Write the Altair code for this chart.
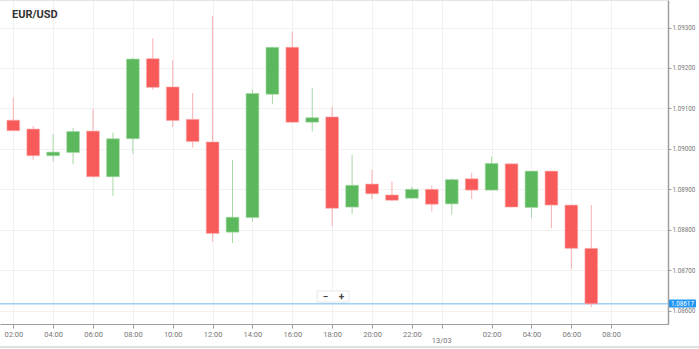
import altair as alt
import pandas as pd

# hours since 12/03 00:00
hours = list(range(2, 32))
opens = [1.09071, 1.09049, 1.08983, 1.08991, 1.09044, 1.08931, 1.09025, 1.09223, 1.09153, 1.09073,
         1.09017, 1.08794, 1.08830, 1.09135, 1.09251, 1.09066, 1.09079, 1.08856, 1.08913, 1.08886,
         1.08878, 1.08900, 1.08864, 1.08926, 1.08898, 1.08963, 1.08855, 1.08945, 1.08861, 1.08754]
highs = [1.09127, 1.09057, 1.09037, 1.09052, 1.09099, 1.09040, 1.09226, 1.09273, 1.09219, 1.09138,
         1.09329, 1.08973, 1.09147, 1.09252, 1.09290, 1.09150, 1.09104, 1.08985, 1.08948, 1.08919,
         1.08907, 1.08909, 1.08927, 1.08941, 1.08981, 1.08963, 1.08945, 1.08945, 1.08862, 1.08861]
lows = [1.09044, 1.08973, 1.08968, 1.08962, 1.08930, 1.08884, 1.08987, 1.09147, 1.09054, 1.09003,
        1.08771, 1.08767, 1.08820, 1.09110, 1.09065, 1.09043, 1.08808, 1.08839, 1.08876, 1.08872,
        1.08877, 1.08845, 1.08838, 1.08876, 1.08898, 1.08855, 1.08829, 1.08804, 1.08703, 1.08609]
closes = [1.09045, 1.08983, 1.08992, 1.09043, 1.08931, 1.09025, 1.09222, 1.09152, 1.09070, 1.09018,
          1.08791, 1.08831, 1.09137, 1.09251, 1.09066, 1.09077, 1.08853, 1.08910, 1.08889, 1.08873,
          1.08900, 1.08863, 1.08924, 1.08898, 1.08964, 1.08856, 1.08945, 1.08861, 1.08754, 1.08617]

y_ticks = [1.086, 1.087, 1.088, 1.089, 1.090, 1.091, 1.092, 1.093]
x_ticks = [2, 4, 6, 8, 10, 12, 14, 16, 18, 20, 22, 23.5, 26, 28, 30, 32]
last_price = 1.08617
last_label = "1.08617"
title_text = "EUR/USD"
day_label = "13/03"
day_pos = 23.5

df = pd.DataFrame({"h": hours, "open": opens, "high": highs, "low": lows, "close": closes})
df["dir"] = ["up" if c >= o else "down" for o, c in zip(opens, closes)]
one = pd.DataFrame({"k": [0]})

W, H = 668, 324
xs = alt.Scale(domain=[1.333, 34.85], nice=False, zero=False)
ys = alt.Scale(domain=[1.08567, 1.09368], nice=False, zero=False)

x_axis = alt.Axis(values=x_ticks, grid=True, gridColor="#f1f1f1", domainColor="#9e9e9e",
                  tickColor="#9e9e9e", tickSize=4, labelFontSize=7.5, labelColor="#777",
                  labelFont="Roboto", labelPadding=2, title=None,
                  labelExpr="datum.value == 23.5 ? '' : (datum.value % 24 < 10 ? '0' : '') + (datum.value % 24) + ':00'")
y_axis = alt.Axis(orient="right", values=y_ticks, format=".5f", grid=True, gridColor="#f1f1f1",
                  domainColor="#9e9e9e", domainWidth=1.5, tickColor="#9e9e9e", tickSize=3,
                  labelFontSize=6.3, labelColor="#777", labelFont="Roboto", labelPadding=1, title=None)

col_body = alt.Scale(domain=["up", "down"], range=["#5cb85c", "#f85a5a"])
col_wick = alt.Scale(domain=["up", "down"], range=["#a8d8a8", "#fbb0b0"])

base = alt.Chart(df)

axes = base.mark_point(opacity=0).encode(
    x=alt.X("h:Q", scale=xs, axis=x_axis),
    y=alt.Y("close:Q", scale=ys, axis=y_axis),
)

wicks = base.mark_rule(strokeWidth=1).encode(
    x=alt.X("h:Q", scale=xs),
    y=alt.Y("low:Q", scale=ys),
    y2="high:Q",
    color=alt.Color("dir:N", scale=col_wick, legend=None),
)

bodies = base.transform_calculate(
    x1="datum.h - 0.32", x2="datum.h + 0.32"
).mark_rect(strokeWidth=1, strokeOpacity=0.6).encode(
    x=alt.X("x1:Q", scale=xs),
    x2="x2:Q",
    y=alt.Y("open:Q", scale=ys),
    y2="close:Q",
    color=alt.Color("dir:N", scale=col_body, legend=None),
    stroke=alt.Stroke("dir:N", scale=col_wick, legend=None),
)

price_line = alt.Chart(one).mark_rule(color="#9fd0f5", strokeWidth=1.5).encode(
    y=alt.Y("p:Q", scale=ys), x=alt.value(0), x2=alt.value(W)
).transform_calculate(p=str(last_price))

top_line = alt.Chart(one).mark_rule(color="#e4e4e4", strokeWidth=1).encode(
    x=alt.value(0), x2=alt.value(W), y=alt.value(0.5))
bottom_line = alt.Chart(one).mark_rule(color="#e2e2e2", strokeWidth=2).encode(
    x=alt.value(0), x2=alt.value(699), y=alt.value(347))

title = alt.Chart(one).mark_text(text=title_text, align="left", baseline="middle", fontSize=11,
                                 fontWeight="bold", font="Roboto", color="#333").encode(
    x=alt.value(12), y=alt.value(14.5))

day = alt.Chart(one).transform_calculate(d=str(day_pos)).mark_text(
    text=day_label, align="center", baseline="middle", fontSize=7.5, font="Roboto", color="#777").encode(
    x=alt.X("d:Q", scale=xs), y=alt.value(341))

price_box = alt.Chart(one).mark_rect(color="#2196f3", cornerRadius=1).encode(
    x=alt.value(669), x2=alt.value(696), y=alt.value(299.5), y2=alt.value(307.5))
price_text = alt.Chart(one).mark_text(text=last_label, align="center", baseline="middle",
                                      fontSize=6.3, font="Roboto", color="white").encode(
    x=alt.value(682.5), y=alt.value(303.5))

btn_box = alt.Chart(one).mark_rect(fill="white", stroke="#e6e6e6", strokeWidth=1).encode(
    x=alt.value(317), x2=alt.value(349), y=alt.value(291), y2=alt.value(302))
btn_minus = alt.Chart(one).mark_text(text="−", align="center", baseline="middle", fontSize=10,
                                     fontWeight="bold", font="Roboto", color="#444").encode(
    x=alt.value(325.5), y=alt.value(296.5))
btn_plus = alt.Chart(one).mark_text(text="+", align="center", baseline="middle", fontSize=10,
                                    fontWeight="bold", font="Roboto", color="#444").encode(
    x=alt.value(341.5), y=alt.value(296.5))

chart = alt.layer(
    axes, top_line, price_line, wicks, bodies, title, day, price_box, price_text,
    btn_box, btn_minus, btn_plus, bottom_line
).resolve_scale(color="independent", stroke="independent").properties(
    width=W, height=H,
    autosize=alt.AutoSizeParams(type="none"),
    padding={"left": 0, "top": 0, "right": 31, "bottom": 25},
    background="white",
).configure_view(stroke=None)

chart.save("out.html", embed_options={"renderer": "svg", "actions": False})
